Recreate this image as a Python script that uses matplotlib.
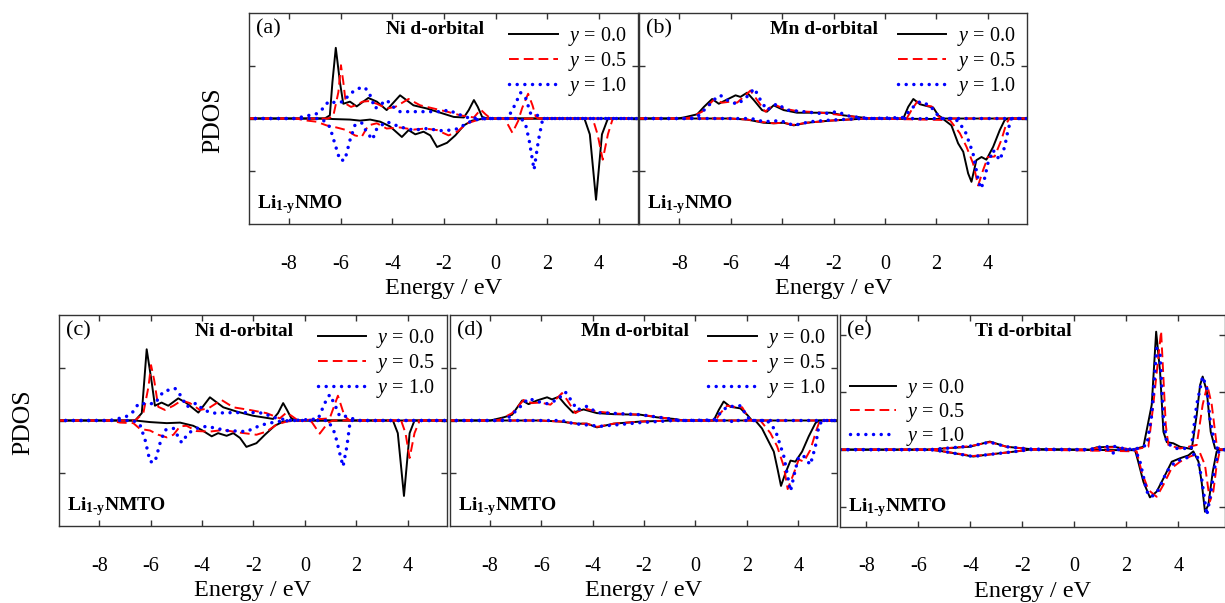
import matplotlib
matplotlib.use("Agg")
import matplotlib.pyplot as plt

plt.rcParams['font.family'] = 'Liberation Serif'
plt.rcParams['mathtext.fontset'] = 'custom'
plt.rcParams['mathtext.rm'] = 'Liberation Serif'
plt.rcParams['mathtext.it'] = 'Liberation Serif:italic'
plt.rcParams['mathtext.bf'] = 'Liberation Serif:bold'
plt.rcParams['axes.unicode_minus'] = False

# ---- data: (energy eV, PDOS) pairs ----
# (a) Ni d-orbital, Li1-yNMO
a_black_up = [(-9.6, 0), (-6.62, 0), (-6.42, 0.06), (-6.32, 0.69), (-6.19, 1.34), (-6.03, 0.69), (-5.9, 0.28),
              (-5.64, 0.32), (-5.38, 0.23), (-4.93, 0.39), (-4.6, 0.32), (-4.22, 0.16), (-3.70, 0.44), (-3.18, 0.25),
              (-2.66, 0.19), (-2.14, 0.11), (-1.62, 0.03), (-1.23, 0.02), (-1.04, 0.16), (-0.84, 0.35), (-0.69, 0.22),
              (-0.52, 0.03), (-0.32, 0), (5.8, 0)]
a_black_down = [(-9.6, 0), (-6.6, 0), (-6.3, -0.01), (-5.64, -0.02), (-5.25, -0.04), (-4.86, -0.02), (-4.47, -0.06),
                (-4.09, -0.15), (-3.63, -0.35), (-3.37, -0.22), (-3.11, -0.30), (-2.79, -0.25), (-2.53, -0.32),
                (-2.27, -0.54), (-1.88, -0.46), (-1.56, -0.32), (-1.23, -0.13), (-0.91, -0.04), (-0.45, 0),
                (3.44, 0), (3.65, -0.3), (3.89, -1.54), (4.12, -0.3), (4.35, 0), (5.8, 0)]
a_red_up = [(-9.6, 0), (-6.5, 0), (-6.29, 0.04), (-6.09, 0.50), (-5.99, 1.01), (-5.9, 0.7), (-5.80, 0.28),
            (-5.6, 0.22), (-5.38, 0.26), (-5.15, 0.32), (-4.93, 0.33), (-4.6, 0.28), (-4.22, 0.19), (-3.89, 0.22),
            (-3.37, 0.37), (-2.92, 0.25), (-2.40, 0.19), (-1.88, 0.13), (-1.36, 0.06), (-0.84, 0.02), (-0.58, 0.17),
            (-0.39, 0.08), (-0.19, 0), (0.9, 0), (1.03, 0.2), (1.26, 0.47), (1.43, 0.25), (1.56, 0.03), (1.65, 0),
            (5.8, 0)]
a_red_down = [(-9.6, 0), (-7.7, 0), (-7.46, -0.03), (-6.94, -0.06), (-6.55, -0.13), (-6.16, -0.17), (-5.77, -0.22),
              (-5.45, -0.32), (-5.19, -0.35), (-4.93, -0.13), (-4.6, -0.09), (-4.22, -0.19), (-3.70, -0.17),
              (-3.18, -0.21), (-2.72, -0.19), (-2.27, -0.22), (-1.82, -0.32), (-1.49, -0.25), (-1.10, -0.09),
              (-0.71, -0.03), (-0.32, 0), (0.35, 0), (0.65, -0.27), (0.9, -0.02), (1.0, 0), (3.76, 0),
              (3.95, -0.3), (4.15, -0.78), (4.35, -0.3), (4.54, 0), (5.8, 0)]
a_blue_up = [(-9.6, 0), (-7.8, 0), (-7.59, 0.02), (-6.94, 0.09), (-6.61, 0.22), (-6.49, 0.32), (-6.16, 0.30),
             (-5.9, 0.32), (-5.64, 0.47), (-5.32, 0.57), (-5.06, 0.59), (-4.86, 0.44), (-4.67, 0.19), (-4.41, 0.28),
             (-4.22, 0.35), (-3.96, 0.22), (-3.70, 0.13), (-2.66, 0.13), (-2.14, 0.13), (-1.82, 0.16), (-1.49, 0.09),
             (-1.10, 0.02), (-0.58, 0), (0.45, 0), (0.65, 0.16), (0.97, 0.49), (1.17, 0.38), (1.36, 0.09),
             (1.62, 0.06), (1.82, 0), (5.8, 0)]
a_blue_down = [(-9.6, 0), (-6.8, 0), (-6.68, -0.03), (-6.42, -0.16), (-6.23, -0.47), (-6.03, -0.79), (-5.84, -0.79),
               (-5.64, -0.41), (-5.45, -0.13), (-5.19, -0.08), (-5.0, -0.25), (-4.77, -0.40), (-4.6, -0.19),
               (-4.22, -0.06), (-3.70, -0.16), (-3.18, -0.22), (-2.66, -0.19), (-2.14, -0.23), (-1.75, -0.22),
               (-1.43, -0.19), (-1.10, -0.08), (-0.71, -0.02), (-0.32, 0), (1.0, 0), (1.17, -0.13), (1.30, -0.41),
               (1.49, -0.97), (1.66, -0.41), (1.82, -0.02), (1.9, 0), (5.8, 0)]

# (b) Mn d-orbital, Li1-yNMO
b_black_up = [(-9.6, 0), (-8.07, 0), (-7.82, 0.02), (-7.30, 0.08), (-7.04, 0.22), (-6.72, 0.37), (-6.46, 0.28),
              (-6.14, 0.36), (-5.81, 0.44), (-5.62, 0.41), (-5.36, 0.49), (-5.10, 0.35), (-4.78, 0.16), (-4.59, 0.13),
              (-4.33, 0.25), (-3.94, 0.16), (-3.42, 0.11), (-2.65, 0.11), (-2.13, 0.11), (-1.61, 0.06), (-1.10, 0.03),
              (-0.58, 0), (0.71, 0), (0.90, 0.22), (1.10, 0.37), (1.36, 0.27), (1.68, 0.23), (1.87, 0.21),
              (2.07, 0.06), (2.26, 0), (5.8, 0)]
b_black_down = [(-9.6, 0), (-6.0, 0), (-5.36, -0.02), (-4.72, -0.08), (-4.33, -0.09), (-3.94, -0.08), (-3.55, -0.13),
                (-3.04, -0.08), (-2.13, -0.04), (-1.10, -0.01), (-0.58, 0), (2.26, -0.01), (2.58, -0.13),
                (2.84, -0.47), (3.04, -0.63), (3.23, -1.04), (3.36, -1.20), (3.55, -0.79), (3.75, -0.73),
                (3.94, -0.78), (4.20, -0.54), (4.46, -0.22), (4.65, -0.03), (4.78, 0), (5.8, 0)]
b_red_up = [(-9.6, 0), (-7.8, 0), (-7.56, 0.02), (-7.11, 0.13), (-6.65, 0.36), (-6.33, 0.30), (-6.01, 0.32),
            (-5.75, 0.30), (-5.52, 0.40), (-5.23, 0.53), (-4.97, 0.35), (-4.65, 0.13), (-4.33, 0.27), (-3.94, 0.19),
            (-3.42, 0.14), (-2.65, 0.12), (-2.13, 0.09), (-1.61, 0.06), (-0.97, 0.02), (-0.45, 0), (0.84, 0),
            (1.03, 0.16), (1.25, 0.32), (1.55, 0.25), (1.81, 0.23), (2.07, 0.04), (2.20, 0), (5.8, 0)]
b_red_down = [(-9.6, 0), (-6.0, 0), (-5.36, -0.02), (-4.72, -0.07), (-4.33, -0.09), (-3.94, -0.08), (-3.55, -0.12),
              (-3.04, -0.08), (-2.13, -0.04), (-1.10, -0.01), (-0.58, 0), (2.52, -0.03), (2.91, -0.28),
              (3.17, -0.54), (3.42, -0.85), (3.62, -1.27), (3.81, -0.98), (4.0, -0.73), (4.26, -0.72),
              (4.52, -0.41), (4.72, -0.09), (4.84, 0), (5.8, 0)]
b_blue_up = [(-9.6, 0), (-7.6, 0), (-7.30, 0.03), (-6.91, 0.22), (-6.59, 0.38), (-6.40, 0.44), (-6.14, 0.35),
             (-5.75, 0.27), (-5.43, 0.38), (-5.08, 0.57), (-4.84, 0.35), (-4.59, 0.16), (-4.20, 0.28), (-3.81, 0.16),
             (-3.17, 0.13), (-2.39, 0.09), (-1.87, 0.13), (-1.36, 0.04), (-0.58, 0), (0.71, 0.02), (1.10, 0.22),
             (1.36, 0.32), (1.74, 0.25), (2.0, 0.09), (2.20, 0), (5.8, 0)]
b_blue_down = [(-9.6, 0), (-5.2, 0), (-4.72, -0.06), (-4.07, -0.04), (-3.55, -0.13), (-2.91, -0.06), (-2.13, -0.03),
               (-0.84, 0), (1.35, 0), (1.49, -0.04), (1.6, 0), (2.6, 0), (2.78, -0.03), (3.10, -0.22),
               (3.42, -0.66), (3.60, -1.11), (3.72, -1.33), (3.84, -1.2), (4.0, -0.85), (4.20, -0.60),
               (4.46, -0.79), (4.65, -0.54), (4.78, -0.22), (4.91, 0), (5.8, 0)]

# (c) Ni d-orbital, Li1-yNMTO
c_black_up = [(-9.6, 0), (-6.60, 0), (-6.34, 0.14), (-6.15, 1.35), (-5.95, 0.71), (-5.83, 0.28), (-5.57, 0.34),
              (-5.31, 0.28), (-4.92, 0.42), (-4.6, 0.33), (-4.14, 0.15), (-3.69, 0.44), (-3.17, 0.25), (-2.65, 0.17),
              (-2.01, 0.09), (-1.23, 0.03), (-1.04, 0.14), (-0.84, 0.33), (-0.69, 0.20), (-0.52, 0.04), (-0.32, 0),
              (5.8, 0)]
c_black_down = [(-9.6, 0), (-6.6, 0), (-6.02, -0.03), (-5.37, -0.05), (-4.85, -0.04), (-4.34, -0.10), (-4.01, -0.18),
                (-3.62, -0.30), (-3.37, -0.24), (-3.04, -0.29), (-2.78, -0.24), (-2.52, -0.33), (-2.27, -0.50),
                (-1.88, -0.43), (-1.55, -0.27), (-1.17, -0.10), (-0.84, -0.02), (-0.45, 0), (3.43, 0),
                (3.62, -0.24), (3.86, -1.43), (4.08, -0.24), (4.27, 0), (5.8, 0)]
c_red_up = [(-9.6, 0), (-6.6, 0), (-6.28, 0.14), (-6.08, 0.64), (-5.98, 1.05), (-5.86, 0.77), (-5.70, 0.26),
            (-5.44, 0.20), (-5.11, 0.28), (-4.79, 0.38), (-4.47, 0.33), (-4.08, 0.20), (-3.75, 0.23), (-3.24, 0.39),
            (-2.78, 0.25), (-2.14, 0.20), (-1.49, 0.14), (-0.97, 0.04), (-0.71, 0.15), (-0.52, 0.09), (-0.26, 0),
            (0.97, 0.04), (1.29, 0.47), (1.55, 0.08), (1.75, 0), (5.8, 0)]
c_red_down = [(-9.6, 0), (-7.57, 0), (-7.18, -0.04), (-6.67, -0.05), (-6.41, -0.16), (-6.02, -0.19), (-5.70, -0.27),
              (-5.37, -0.32), (-5.11, -0.27), (-4.85, -0.11), (-4.60, -0.10), (-4.21, -0.20), (-3.69, -0.21),
              (-3.17, -0.18), (-2.52, -0.23), (-1.88, -0.27), (-1.49, -0.21), (-1.10, -0.08), (-0.71, -0.02),
              (-0.32, 0), (0.26, -0.02), (0.58, -0.25), (0.91, -0.04), (1.1, 0), (3.75, 0), (3.92, -0.24),
              (4.08, -0.71), (4.27, -0.24), (4.47, 0), (5.8, 0)]
c_blue_up = [(-9.6, 0), (-7.7, 0), (-7.44, 0.01), (-6.93, 0.08), (-6.67, 0.17), (-6.47, 0.32), (-6.15, 0.32),
             (-5.83, 0.32), (-5.50, 0.55), (-5.05, 0.61), (-4.79, 0.45), (-4.60, 0.26), (-4.21, 0.33), (-3.95, 0.20),
             (-3.56, 0.14), (-2.78, 0.15), (-2.01, 0.15), (-1.62, 0.14), (-1.23, 0.06), (-0.71, 0.01), (-0.45, 0),
             (0.52, 0.03), (0.78, 0.33), (0.97, 0.49), (1.17, 0.30), (1.36, 0.08), (1.62, 0.08), (2.0, 0.01),
             (2.14, 0), (5.8, 0)]
c_blue_down = [(-9.6, 0), (-6.67, 0), (-6.41, -0.08), (-6.21, -0.37), (-6.02, -0.78), (-5.83, -0.79), (-5.63, -0.43),
               (-5.44, -0.18), (-5.11, -0.15), (-4.79, -0.42), (-4.53, -0.24), (-4.21, -0.15), (-3.82, -0.11),
               (-3.04, -0.19), (-2.27, -0.21), (-1.81, -0.11), (-1.49, -0.06), (-1.04, -0.02), (-0.58, 0),
               (0.91, 0), (1.17, -0.24), (1.36, -0.62), (1.49, -0.87), (1.64, -0.49), (1.77, 0), (5.8, 0)]

# (d) Mn d-orbital, Li1-yNMTO
d_black_up = [(-9.6, 0), (-7.98, 0), (-7.46, 0.06), (-7.13, 0.11), (-6.74, 0.38), (-6.49, 0.31), (-6.16, 0.38),
              (-5.77, 0.44), (-5.58, 0.40), (-5.32, 0.45), (-5.06, 0.30), (-4.76, 0.15), (-4.35, 0.21), (-3.83, 0.14),
              (-3.18, 0.12), (-2.14, 0.11), (-1.49, 0.06), (-0.84, 0.03), (-0.45, 0), (0.71, 0), (0.91, 0.20),
              (1.10, 0.36), (1.36, 0.26), (1.75, 0.23), (2.01, 0.11), (2.20, 0), (5.8, 0)]
d_black_down = [(-9.6, 0), (-6.03, 0), (-5.25, -0.02), (-4.60, -0.06), (-4.22, -0.06), (-3.83, -0.13), (-3.18, -0.06),
                (-2.14, -0.02), (-0.84, 0), (2.33, 0), (2.59, -0.15), (2.85, -0.40), (3.05, -0.59), (3.20, -0.93),
                (3.33, -1.24), (3.50, -1.00), (3.70, -0.76), (3.89, -0.78), (4.15, -0.59), (4.41, -0.30),
                (4.67, -0.05), (4.80, 0), (5.8, 0)]
d_red_up = [(-9.6, 0), (-7.8, 0), (-7.59, 0.02), (-7.13, 0.14), (-6.68, 0.39), (-6.36, 0.33), (-6.03, 0.34),
            (-5.64, 0.30), (-5.45, 0.39), (-5.19, 0.52), (-4.99, 0.39), (-4.67, 0.14), (-4.35, 0.23), (-3.83, 0.17),
            (-3.05, 0.13), (-2.14, 0.11), (-1.36, 0.06), (-0.71, 0.01), (-0.32, 0), (0.78, 0), (0.97, 0.14),
            (1.23, 0.28), (1.49, 0.26), (1.82, 0.25), (2.08, 0.04), (2.20, 0), (5.8, 0)]
d_red_down = [(-9.6, 0), (-6.03, 0), (-5.25, -0.02), (-4.60, -0.06), (-4.22, -0.06), (-3.83, -0.12), (-3.18, -0.06),
              (-2.14, -0.02), (-0.84, 0), (2.53, 0), (2.92, -0.24), (3.18, -0.49), (3.44, -0.87), (3.59, -1.30),
              (3.83, -1.00), (4.02, -0.74), (4.22, -0.78), (4.47, -0.56), (4.71, -0.18), (4.84, 0), (5.8, 0)]
d_blue_up = [(-9.6, 0), (-7.6, 0), (-7.33, 0.03), (-6.94, 0.20), (-6.49, 0.42), (-6.16, 0.36), (-5.77, 0.32),
             (-5.38, 0.39), (-5.06, 0.54), (-4.80, 0.36), (-4.60, 0.20), (-4.22, 0.27), (-3.83, 0.15), (-2.92, 0.13),
             (-2.14, 0.11), (-1.10, 0.04), (-0.58, 0), (0.71, 0.01), (0.97, 0.14), (1.23, 0.26), (1.75, 0.28),
             (2.01, 0.08), (2.14, 0), (5.8, 0)]
d_blue_down = [(-9.6, 0), (-5.2, 0), (-4.73, -0.06), (-3.70, -0.11), (-2.14, -0.04), (-0.84, 0), (1.35, 0),
               (1.49, -0.04), (1.6, 0), (2.79, 0), (3.11, -0.18), (3.44, -0.68), (3.70, -1.34), (3.89, -0.93),
               (4.02, -0.68), (4.22, -0.68), (4.47, -0.84), (4.67, -0.49), (4.80, -0.11), (4.93, 0), (5.8, 0)]

# (e) Ti d-orbital, Li1-yNMTO
e_black_up = [(-9.6, 0), (-5.56, 0), (-5.05, 0.02), (-4.02, 0.05), (-3.25, 0.14), (-2.61, 0.05), (-1.71, 0.01),
              (0.6, 0), (0.86, 0.04), (1.50, 0.05), (1.89, 0.02), (2.21, 0), (2.66, 0.05), (2.98, 0.78),
              (3.15, 2.05), (3.30, 1.36), (3.43, 0.31), (3.56, 0.13), (3.81, 0.11), (4.07, 0.05), (4.52, 0.01),
              (4.71, 0.60), (4.84, 1.12), (4.94, 1.27), (5.10, 1.01), (5.25, 0.31), (5.42, 0.02), (5.61, 0), (5.9, 0)]
e_black_down = [(-9.6, 0), (-5.56, 0), (-5.05, -0.03), (-3.89, -0.12), (-3.38, -0.09), (-2.22, -0.03), (-1.71, 0),
                (2.34, -0.01), (2.46, -0.21), (2.66, -0.56), (2.91, -0.83), (3.17, -0.73), (3.43, -0.50),
                (3.75, -0.21), (4.07, -0.15), (4.39, -0.10), (4.58, -0.03), (4.78, -0.21), (4.90, -0.56),
                (5.03, -1.08), (5.16, -0.96), (5.33, -0.38), (5.48, -0.03), (5.61, 0), (5.9, 0)]
e_red_up = [(-9.6, 0), (-5.56, 0), (-5.05, 0.02), (-4.02, 0.06), (-3.25, 0.13), (-2.61, 0.05), (-1.71, 0.01),
            (0.6, 0), (0.86, 0.03), (1.50, 0.04), (1.89, 0.02), (2.3, 0), (2.85, 0.05), (3.04, 0.78), (3.34, 2.06),
            (3.52, 0.43), (3.62, 0.08), (4.07, 0.02), (4.71, 0.08), (4.94, 0.78), (5.12, 1.12), (5.29, 0.78),
            (5.48, 0.08), (5.61, 0), (5.9, 0)]
e_red_down = [(-9.6, 0), (-5.56, 0), (-5.05, -0.03), (-3.89, -0.11), (-3.38, -0.09), (-2.22, -0.03), (-1.71, 0),
              (2.40, -0.03), (2.59, -0.38), (2.85, -0.70), (3.17, -0.82), (3.43, -0.61), (3.75, -0.32),
              (4.07, -0.21), (4.45, -0.12), (4.84, -0.06), (5.03, -0.27), (5.22, -0.90), (5.35, -0.73),
              (5.48, -0.27), (5.61, 0), (5.9, 0)]
e_blue_up = [(-9.6, 0), (-5.56, 0), (-5.05, 0.02), (-4.02, 0.06), (-3.25, 0.13), (-2.61, 0.05), (-1.71, 0.01),
             (0.6, 0), (0.86, 0.04), (1.50, 0.06), (1.89, 0.02), (2.3, 0), (2.79, 0.08), (2.98, 0.60), (3.17, 1.76),
             (3.30, 1.65), (3.43, 0.54), (3.56, 0.11), (3.94, 0.02), (4.5, 0.02), (4.71, 0.78), (4.94, 1.27),
             (5.10, 1.07), (5.22, 0.54), (5.42, 0.05), (5.6, 0), (5.9, 0)]
e_blue_down = [(-9.6, 0), (-5.56, 0), (-5.05, -0.03), (-3.89, -0.12), (-3.38, -0.09), (-2.22, -0.03), (-1.71, 0),
               (1.45, 0), (1.50, -0.06), (1.55, 0), (2.35, 0), (2.53, -0.21), (2.79, -0.73), (2.98, -0.82),
               (3.24, -0.70), (3.56, -0.38), (3.88, -0.21), (4.33, -0.14), (4.71, -0.06), (4.90, -0.50),
               (5.10, -1.14), (5.22, -0.85), (5.42, -0.27), (5.58, 0), (5.9, 0)]

x_ticks = [-8, -6, -4, -2, 0, 2, 4]
legend_labels = ['$y$ = 0.0', '$y$ = 0.5', '$y$ = 1.0']
titles = ['Ni d-orbital', 'Mn d-orbital', 'Ni d-orbital', 'Mn d-orbital', 'Ti d-orbital']
letters = ['(a)', '(b)', '(c)', '(d)', '(e)']
compounds = [r'Li$_{\mathbf{1\text{-}y}}$NMO'] * 2 + [r'Li$_{\mathbf{1\text{-}y}}$NMTO'] * 3

styles = [dict(color='black', lw=1.4, ls='-'),
          dict(color='#ff0000', lw=1.4, ls=(0, (5, 2.6))),
          dict(color='#0000ff', lw=2.5, ls=(0, (0.01, 2.2)), dash_capstyle='round')]

panels = [
    [(a_black_up, a_black_down), (a_red_up, a_red_down), (a_blue_up, a_blue_down)],
    [(b_black_up, b_black_down), (b_red_up, b_red_down), (b_blue_up, b_blue_down)],
    [(c_black_up, c_black_down), (c_red_up, c_red_down), (c_blue_up, c_blue_down)],
    [(d_black_up, d_black_down), (d_red_up, d_red_down), (d_blue_up, d_blue_down)],
    [(e_black_up, e_black_down), (e_red_up, e_red_down), (e_blue_up, e_blue_down)],
]

rects = [[0.2033, 0.6285, 0.3176, 0.3499],
         [0.5219, 0.6285, 0.3165, 0.3499],
         [0.0484, 0.1277, 0.3162, 0.3499],
         [0.3673, 0.1277, 0.3162, 0.3499],
         [0.6857, 0.1265, 0.3143, 0.3511]]

fig = plt.figure(figsize=(12.25, 6.03), dpi=100)
spine_col = '#333333'

for i, (rect, curves) in enumerate(zip(rects, panels)):
    ax = fig.add_axes(rect)
    for (up, down), st, lab in zip(curves, styles, legend_labels):
        for k, pts in enumerate((up, down)):
            e, v = zip(*pts)
            ax.plot(e, v, label=lab if k == 0 else None, **st)
    if i < 4:
        ax.set_xlim(-9.55, 5.52)
        ax.set_ylim(-2, 2)
        ax.set_yticks([-1, 0, 1])
    else:
        ax.set_xlim(-9.02, 5.8)
        ax.set_ylim(-1.34, 2.34)
        ax.set_yticks([-1, 0, 1, 2])
    ax.set_xticks(x_ticks)
    ax.tick_params(direction='in', top=True, right=True, length=4, width=1, colors=spine_col,
                   labelcolor='black', labelsize=14.5, pad=22, labelleft=False)
    for sp in ax.spines.values():
        sp.set_color(spine_col)
        sp.set_linewidth(1.0)

    ax.text(0.018, 0.925, letters[i], transform=ax.transAxes, fontsize=16, va='center', ha='left')
    ax.text(0.477, 0.922, titles[i], transform=ax.transAxes, fontsize=14, fontweight='bold',
            va='center', ha='center')
    ax.text(0.02, 0.09, compounds[i], transform=ax.transAxes, fontsize=14, fontweight='bold',
            va='center', ha='left')
    ax.text(0.5, -0.305, 'Energy / eV', transform=ax.transAxes, fontsize=17.5, va='center', ha='center')

    if i < 4:
        ax.legend(loc='upper right', bbox_to_anchor=(1.0, 1.0), frameon=False, fontsize=14.5,
                  handlelength=2.4, handletextpad=0.5, labelspacing=0.1, borderaxespad=0.2)
    else:
        ax.legend(loc='upper left', bbox_to_anchor=(-0.005, 0.765), frameon=False, fontsize=14.5,
                  handlelength=2.3, handletextpad=0.45, labelspacing=0.05, borderaxespad=0.2)

fig.text(213 / 1225, 1 - 120 / 603, 'PDOS', rotation=90, fontsize=18.5, ha='center', va='center')
fig.text(23 / 1225, 1 - 421.7 / 603, 'PDOS', rotation=90, fontsize=18.5, ha='center', va='center')

fig.savefig('out.png', dpi=100)
